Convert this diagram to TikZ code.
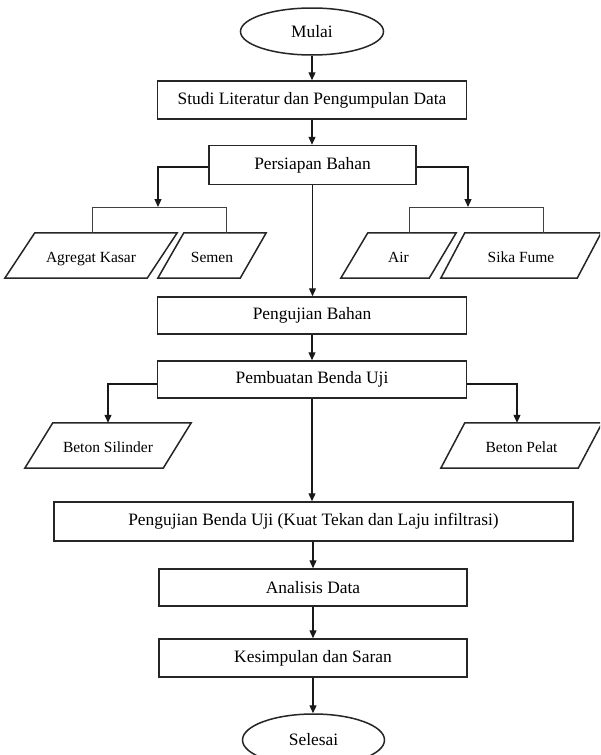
\documentclass[tikz,border=0pt]{standalone}
\usepackage{fontspec}
\setmainfont{Liberation Serif}
\usetikzlibrary{shapes.geometric,arrows.meta}
\begin{document}
\begin{tikzpicture}[x=1pt,y=-1pt,
  box/.style={draw=black!85, line width=1.5pt, rectangle, inner sep=0pt, font=\fontsize{17.4}{20}\selectfont},
  term/.style={draw=black!85, line width=1.5pt, ellipse, inner sep=0pt, minimum width=143pt, minimum height=47pt, font=\fontsize{17.4}{20}\selectfont},
  para/.style={inner sep=0pt, minimum height=45pt, text height=18pt, text depth=3.5pt, font=\fontsize{15.5}{18}\selectfont},
  paraline/.style={draw=black!85, line width=1.5pt, line join=miter},
  arr/.style={draw=black!90, line width=1.2pt, -{Triangle[length=8pt,width=7pt]}},
  conn/.style={draw=black!75, line width=1pt}
]
\clip (0,0) rectangle (600,755);
\fill[white] (0,0) rectangle (600,755);

% main column
\node[term] (mulai) at (312,31.5) {Mulai};
\node[box, minimum width=309pt, minimum height=38pt] (studi) at (312,100) {Studi Literatur dan Pengumpulan Data};
\node[box, minimum width=207pt, minimum height=39pt] (pers) at (312.5,165) {Persiapan Bahan};
\node[box, minimum width=309pt, minimum height=37pt] (pb) at (312,315.5) {Pengujian Bahan};
\node[box, minimum width=309pt, minimum height=37pt] (pemb) at (312,379.5) {Pembuatan Benda Uji};
\node[box, minimum width=519pt, minimum height=39pt] (pbu) at (313.5,521.5) {Pengujian Benda Uji (Kuat Tekan dan Laju infiltrasi)};
\node[box, minimum width=308pt, minimum height=37pt] (anal) at (313,587.5) {Analisis Data};
\node[box, minimum width=308pt, minimum height=38pt] (kes) at (313,658) {Kesimpulan dan Saran};
\node[term, minimum width=142pt, minimum height=52pt] (selesai) at (313.5,740) {Selesai};

% input/output parallelograms (text nodes)
\node[para, minimum width=142pt] (agg) at (91,255.5) {Agregat Kasar};
\node[para, minimum width=82pt] (semen) at (212,255.5) {Semen};
\node[para, minimum width=88pt] (air) at (398.5,255.5) {Air};
\node[para, minimum width=136pt] (sika) at (521,255.5) {Sika Fume};
\node[para, minimum width=138pt] (sil) at (108,445.5) {Beton Silinder};
\node[para, minimum width=137pt] (pelat) at (521.5,445.5) {Beton Pelat};

\foreach \n/\s in {agg/15, semen/13, air/13.5, sika/12, sil/14, pelat/12}{
  \draw[paraline] ([xshift=\s pt]\n.north west) -- ([xshift=\s pt]\n.north east)
    -- ([xshift=-\s pt]\n.south east) -- ([xshift=-\s pt]\n.south west) -- cycle;
}

% bracket coordinates
\coordinate (bl1) at (92,207);
\coordinate (bl2) at (226,207);
\coordinate (blm) at (158,207);
\coordinate (br1) at (409,207);
\coordinate (br2) at (543,207);
\coordinate (brm) at (468,207);

% brackets
\draw[conn] (agg.north -| bl1) -- (bl1) -- (bl2) -- (semen.north -| bl2);
\draw[conn] (air.north -| br1) -- (br1) -- (br2) -- (sika.north -| br2);

% main arrows
\draw[arr] (mulai) -- (studi);
\draw[arr] (studi) -- (pers.north -| studi.south);
\draw[arr] (pers.south) -- (pb.north -| pers.south);
\draw[arr] (pb) -- (pemb);
\draw[arr] (pemb.south) -- (pbu.north -| pemb.south);
\draw[arr] (pbu.south -| anal.north) -- (anal.north);
\draw[arr] (anal) -- (kes);
\draw[arr] (kes.south) -- (selesai.north -| kes.south);

% branches
\draw[arr] ([yshift=-2pt]pers.west) -| (blm);
\draw[arr] ([yshift=-2pt]pers.east) -| (brm);
\draw[arr] ([yshift=-4.5pt]pemb.west) -| (sil.north);
\draw[arr] ([yshift=-4.5pt]pemb.east) -| ([xshift=-4.5pt]pelat.north);
\end{tikzpicture}
\end{document}
